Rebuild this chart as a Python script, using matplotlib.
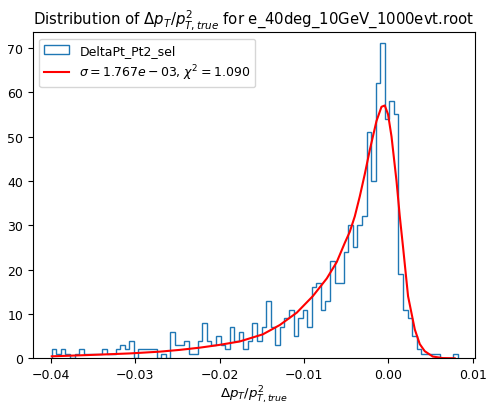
import numpy as np
import matplotlib
matplotlib.use("Agg")
import matplotlib.pyplot as plt

# Histogram data (89 equal-width bins)
bin_lo = -0.03989
bin_hi = 0.00821
counts = [
    2, 1, 2, 1, 0, 1, 2, 1, 1, 1,
    1, 2, 1, 1, 2, 3, 2, 4, 0, 2,
    2, 2, 2, 0, 1, 0, 6, 3, 3, 4,
    1, 1, 4, 8, 4, 3, 5, 3, 2, 7,
    4, 6, 2, 4, 8, 4, 7, 13, 7, 3,
    7, 9, 11, 5, 9, 11, 7, 16, 17, 11,
    13, 22, 17, 17, 24, 30, 25, 30, 32, 51,
    40, 62, 71, 54, 58, 55, 19, 11, 9, 5,
    2, 1, 1, 1, 1, 0, 0, 0, 1,
]

# Fit curve
fit_x = [-0.03989, -0.03539, -0.03065, -0.02710, -0.02473, -0.02236, -0.02011,
         -0.01762, -0.01489, -0.01288, -0.01086, -0.00897, -0.00731, -0.00613,
         -0.00518, -0.00459, -0.00399, -0.00340, -0.00281, -0.00221, -0.00142,
         -0.00083, -0.00044, -0.00005, 0.00036, 0.00095, 0.00134, 0.00173,
         0.00232, 0.00312, 0.00371, 0.00430, 0.00525, 0.00643, 0.00785]
fit_y = [0.45, 0.75, 1.1, 1.5, 1.9, 2.4, 3.0,
         3.8, 5.4, 7.5, 10.3, 14.0, 18.0, 21.7,
         26.0, 28.5, 32.0, 36.5, 41.5, 47.0, 53.5,
         56.7, 57.0, 55.0, 50.0, 40.0, 32.0, 25.0,
         14.0, 6.5, 3.2, 1.6, 0.4, 0.05, 0.0]

hist_label = "DeltaPt_Pt2_sel"
fit_label = r"$\sigma = 1.767e-03$, $\chi^2 = 1.090$"
title = r"Distribution of $\Delta p_T/p^2_{T,true}$ for e_40deg_10GeV_1000evt.root"
xlabel = r"$\Delta p_T/p^2_{T,true}$"

edges = np.linspace(bin_lo, bin_hi, len(counts) + 1)
centers = 0.5 * (edges[:-1] + edges[1:])

fs = 9.0
plt.rcParams.update({
    "font.size": fs,
    "axes.titlesize": 10.7,
    "axes.labelsize": 9.6,
    "xtick.labelsize": fs,
    "ytick.labelsize": fs,
    "legend.fontsize": fs,
})

fig = plt.figure(figsize=(4.87, 4.06), dpi=100)
ax = fig.add_axes([0.068, 0.115, 0.907, 0.803])
ax.hist(centers, bins=edges, weights=counts, histtype="step", label=hist_label)
ax.plot(fit_x, fit_y, color="red", label=fit_label)
ax.set_xlim(-0.0421, 0.01023)
ax.set_ylim(0, 73.5)
ax.set_title(title)
ax.set_xlabel(xlabel, labelpad=1.5)
ax.legend(loc="upper left")
fig.savefig("out.png", dpi=100)
